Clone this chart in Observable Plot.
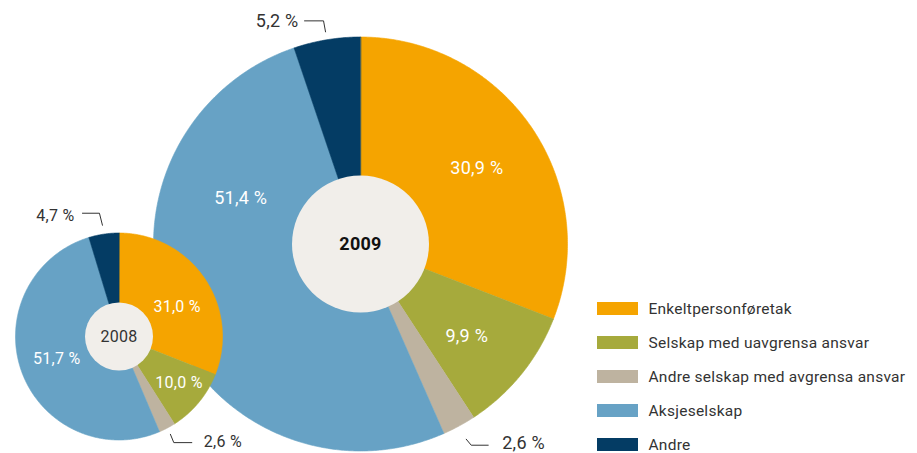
<!DOCTYPE html>
<html>
<head>
<meta charset="utf-8">
<script src="https://cdn.jsdelivr.net/npm/d3@7"></script>
<script src="https://cdn.jsdelivr.net/npm/@observablehq/plot@0.6"></script>
<style>
  html, body { margin: 0; padding: 0; background: #fff; }
  svg { display: block; }
  svg text { letter-spacing: 0.25px; }
</style>
</head>
<body>
<div id="chart"></div>
<script>
// ---- data ----
const categories = ["Enkeltpersonføretak", "Selskap med uavgrensa ansvar", "Andre selskap med avgrensa ansvar", "Aksjeselskap", "Andre"];
const colors = ["#f5a400", "#a6aa3c", "#beb3a0", "#67a2c5", "#043c64"];
const years = ["2009", "2008"];
const values2009 = [30.9, 9.9, 2.6, 51.4, 5.2];
const values2008 = [31.0, 10.0, 2.6, 51.7, 4.7];

// ---- layout (pixel units, y downward) ----
const W = 917, H = 453;
const pieLayout = [
  { year: "2009", values: values2009, cx: 360, cy: 243.5, r: 207, hole: 68.5, fontSize: 18, yearWeight: "bold", yearColor: "#111",
    labelAt: [[57, 0.67], [131, 0.68], null, [291, 0.62], null],
    topGap: 8, topElbow: [-2, -11], topRun: -19, topText: -6, topDy: 0,
    botGap: 15, botElbow: [5, 6], botRun: 17, botText: 14, botDy: -2 },
  { year: "2008", values: values2008, cx: 118.5, cy: 336, r: 103.5, hole: 34, fontSize: 16, yearWeight: "normal", yearColor: "#333",
    labelAt: [[63, 0.63], [127.5, 0.73], null, [null, 0.64], null],
    topGap: 9, topElbow: [-3, -12], topRun: -17, topText: -8, topDy: 3,
    botGap: 7, botElbow: [3.4, 8.3], botRun: 18, botText: 12, botDy: -1 }
];
const legendX = 597, legendY = 302, legendStep = 34, swatchW = 41, swatchH = 13, legendTextGap = 10;

const fmt = v => v.toFixed(1).replace(".", ",") + " %";
const rad = d => d * Math.PI / 180;
const pt = (p, angDeg, rr) => [p.cx + rr * Math.sin(rad(angDeg)), p.cy - rr * Math.cos(rad(angDeg))];

const slicePts = [];
const labels = [];
const leaders = [];
const leaderLabels = [];
for (const p of pieLayout) {
  const total = d3.sum(p.values);
  let acc = 0;
  p.values.forEach((v, i) => {
    const a0 = acc / total * 360, a1 = (acc + v) / total * 360;
    acc += v;
    const key = p.year + "-" + i;
    const n = Math.max(2, Math.ceil((a1 - a0) / 0.5));
    slicePts.push({ key, cat: categories[i], x: p.cx, y: p.cy });
    for (let k = 0; k <= n; k++) {
      const [x, y] = pt(p, a0 + (a1 - a0) * k / n, p.r);
      slicePts.push({ key, cat: categories[i], x, y });
    }
    const mid = (a0 + a1) / 2;
    const spot = p.labelAt[i];
    if (spot) {
      const [x, y] = pt(p, spot[0] == null ? mid : spot[0], p.r * spot[1]);
      labels.push({ x, y, text: fmt(v), size: p.fontSize });
    } else if (i === 4) {
      const [x0, y0] = pt(p, mid, p.r + p.topGap);
      const x1 = x0 + p.topElbow[0], y1 = y0 + p.topElbow[1];
      const x2 = x1 + p.topRun;
      leaders.push({ key, x: x0, y: y0 }, { key, x: x1, y: y1 }, { key, x: x2, y: y1 });
      leaderLabels.push({ x: x2 + p.topText, y: y1 + p.topDy, text: fmt(v), anchor: "end", size: p.fontSize });
    } else if (i === 2) {
      const [x0, y0] = pt(p, mid, p.r + p.botGap);
      const x1 = x0 + p.botElbow[0], y1 = y0 + p.botElbow[1];
      const x2 = x1 + p.botRun;
      leaders.push({ key, x: x0, y: y0 }, { key, x: x1, y: y1 }, { key, x: x2, y: y1 });
      leaderLabels.push({ x: x2 + p.botText, y: y1 + p.botDy, text: fmt(v), anchor: "start", size: p.fontSize });
    }
  });
}

const holes = pieLayout.map(p => ({ x: p.cx, y: p.cy, r: p.hole, year: p.year, size: p.fontSize, weight: p.yearWeight, color: p.yearColor }));
const legend = categories.map((c, i) => ({ cat: c, x1: legendX, x2: legendX + swatchW, y1: legendY + i * legendStep, y2: legendY + i * legendStep + swatchH }));

const font = "Roboto, 'DejaVu Sans', sans-serif";
const reg = 400;
const chart = Plot.plot({
  width: W, height: H,
  margin: 0,
  x: { domain: [0, W], range: [0, W], axis: null },
  y: { domain: [0, H], range: [0, H], axis: null },
  color: { domain: categories, range: colors },
  style: { fontFamily: font, background: "#fff" },
  marks: [
    Plot.line(slicePts, { x: "x", y: "y", z: "key", fill: "cat", stroke: "cat", strokeWidth: 0.6, curve: "linear-closed" }),
    Plot.dot(holes.filter(h => h.year === "2009"), { x: "x", y: "y", r: holes[0].r, fill: "#f1eeea", stroke: null }),
    Plot.dot(holes.filter(h => h.year === "2008"), { x: "x", y: "y", r: holes[1].r, fill: "#f1eeea", stroke: null }),
    ...holes.map(h => Plot.text([h], { x: "x", y: "y", text: "year", fontSize: h.size, fontWeight: h.weight === "bold" ? "bold" : reg, fill: h.color, fontFamily: font })),
    Plot.text(labels.filter(d => d.size === 18), { x: "x", y: "y", text: "text", fill: "white", fontSize: 18, fontWeight: reg, fontFamily: font }),
    Plot.text(labels.filter(d => d.size === 16), { x: "x", y: "y", text: "text", fill: "white", fontSize: 16, fontWeight: reg, fontFamily: font }),
    Plot.line(leaders, { x: "x", y: "y", z: "key", stroke: "#333", strokeWidth: 1 }),
    ...[18, 16].flatMap(s => ["start", "end"].map(a =>
      Plot.text(leaderLabels.filter(d => d.size === s && d.anchor === a), { x: "x", y: "y", text: "text", textAnchor: a, fontSize: s, fontWeight: reg, fill: "#333", fontFamily: font }))),
    Plot.rect(legend, { x1: "x1", x2: "x2", y1: "y1", y2: "y2", fill: "cat" }),
    Plot.text(legend, { x: d => d.x2 + legendTextGap, y: d => (d.y1 + d.y2) / 2, text: "cat", textAnchor: "start", fontSize: 15.5, fontWeight: reg, fill: "#333", fontFamily: font })
  ]
});
document.getElementById("chart").appendChild(chart);
</script>
</body>
</html>
